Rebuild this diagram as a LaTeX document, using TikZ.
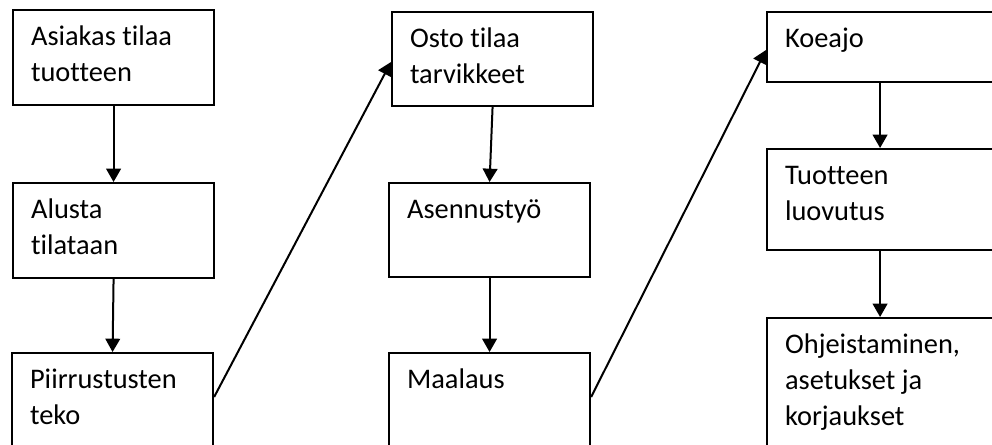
\documentclass[tikz,border=0pt]{standalone}
\usepackage{fontspec}
\setmainfont{Carlito}[Ligatures=NoCommon]
\usetikzlibrary{arrows.meta}

\newdimen\pxu \pxu=0.75pt
% box text: [width]{height}{text}, sizes in pixels
\newcommand\laatikko[3][201]{\parbox[t][#2\pxu][t]{\dimexpr#1\pxu-36\pxu\relax}{\raggedright\rule{0pt}{35\pxu}#3}}

\tikzset{
    vaihe/.style={draw, line width=1.6pt, anchor=north west, inner xsep=13.5pt, inner ysep=0pt,
        font=\fontsize{21.3pt}{27pt}\selectfont},
    nuoli/.style={line width=1.5pt, -{Triangle[width=11pt,length=10pt]}}
}

\begin{document}
\begin{tikzpicture}[x=0.75pt, y=-0.75pt]
            \useasboundingbox (0,0) rectangle (992,445);
            \clip (0,0) rectangle (992,445);
            \node[vaihe] (asiakas) at (12,9) {\laatikko{95}{Asiakas tilaa\\tuotteen}};
            \node[vaihe] (alusta) at (12,182) {\laatikko{95}{Alusta\\tilataan}};
            \node[vaihe] (piirrus) at (11,352) {\laatikko{120}{Piirrustusten\\teko}};
            \node[vaihe] (osto) at (391,11) {\laatikko{94}{Osto tilaa\\tarvikkeet}};
            \node[vaihe] (asennus) at (388,182) {\laatikko{94}{Asennustyö}};
            \node[vaihe] (maalaus) at (388,352) {\laatikko{120}{Maalaus}};
            \node[vaihe] (koeajo) at (766,11) {\laatikko[226]{70}{Koeajo}};
            \node[vaihe] (luovutus) at (766,148) {\laatikko[226]{101}{Tuotteen\\luovutus}};
            \node[vaihe] (ohjeet) at (766,317) {\laatikko[226]{140}{Ohjeistaminen,\\asetukset ja\\korjaukset}};
            \draw[nuoli] (asiakas.south) -- (alusta.north);
            \draw[nuoli] (alusta.south) -- (piirrus.north);
            \draw[nuoli] (osto.south) -- (asennus.north);
            \draw[nuoli] (asennus.south) -- (maalaus.north);
            \draw[nuoli] (koeajo.south) -- (luovutus.north);
            \draw[nuoli] (luovutus.south) -- (ohjeet.north);
            \draw[nuoli] ([yshift=-33.75pt]piirrus.north east) -- ([yshift=-38.25pt]osto.north west);
            \draw[nuoli] ([yshift=-33.75pt]maalaus.north east) -- ([yshift=-29.25pt]koeajo.north west);
        \end{tikzpicture}
\end{document}
